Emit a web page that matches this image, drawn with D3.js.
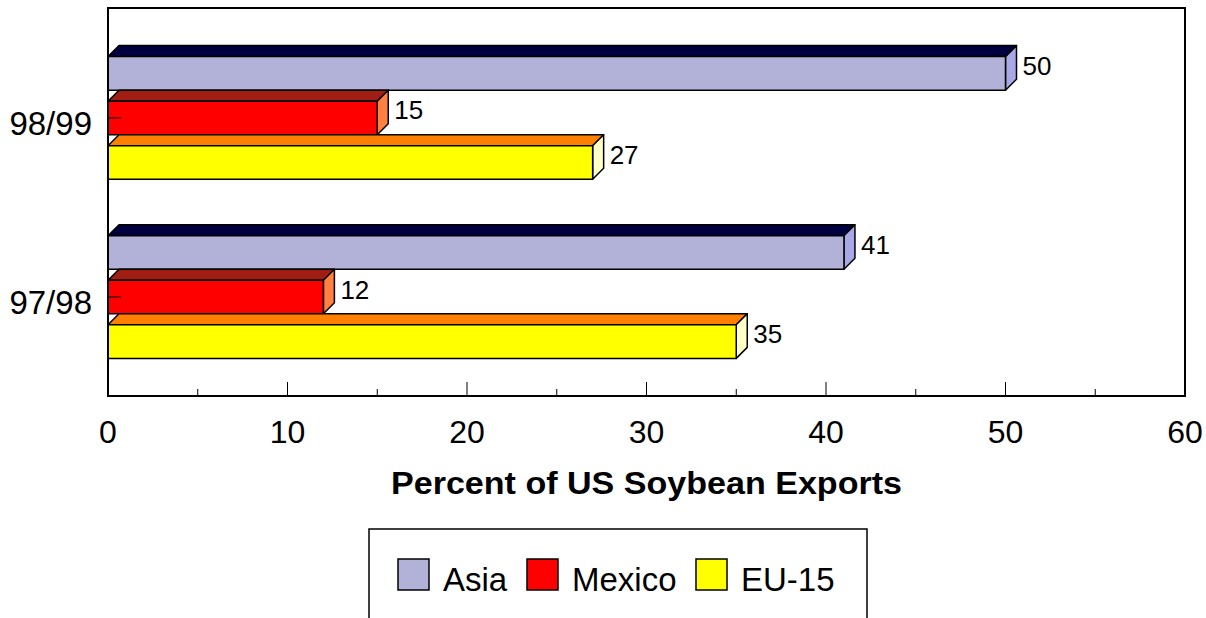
<!DOCTYPE html>
<html><head><meta charset="utf-8">
<script src="https://d3js.org/d3.v7.min.js"></script>
<style>body{margin:0;background:#fff}svg{display:block}</style>
</head><body><svg id="c" width="1206" height="618"></svg>
<script>
const categories = ["98/99", "97/98"];
const seriesNames = ["Asia", "Mexico", "EU-15"];
const asia = [50, 41];
const mexico = [15, 12];
const eu15 = [27, 35];
const xTicks = [0, 10, 20, 30, 40, 50, 60];
const frontColors = ["#b2b2d9", "#ff0000", "#ffff00"];
const topColors = ["#000040", "#a01e14", "#ff8000"];
const sideColors = ["#a8a8e6", "#ff8040", "#ffffc8"];
const seriesValues = [asia, mexico, eu15];

(function () {
const svg = d3.select("#c");
const pL = 108, pR = 1185, pT = 8, pB = 396;
const depth = 11;
const font = "Arial, 'Liberation Sans', sans-serif";

const x = d3.scaleLinear().domain([0, 60]).range([pL, pR]);
const y = d3.scaleBand().domain(categories).range([pT, pB]).paddingInner(0.254).paddingOuter(0.21);
const ys = d3.scaleBand().domain(seriesNames).range([0, y.bandwidth()]);

svg.append("rect").attr("x", pL).attr("y", pT).attr("width", pR - pL).attr("height", pB - pT)
  .attr("fill", "none").attr("stroke", "#000").attr("stroke-width", 2);

const minor = d3.range(5, 60, 10);
svg.selectAll(".mt").data(minor).enter().append("line")
  .attr("x1", d => x(d)).attr("x2", d => x(d)).attr("y1", pB).attr("y2", pB - 7)
  .attr("stroke", "#000").attr("stroke-width", 1);
svg.selectAll(".Mt").data(xTicks.slice(1, -1)).enter().append("line")
  .attr("x1", d => x(d)).attr("x2", d => x(d)).attr("y1", pB).attr("y2", pB - 14)
  .attr("stroke", "#000").attr("stroke-width", 1);
svg.selectAll(".xl").data(xTicks).enter().append("text")
  .attr("x", d => x(d)).attr("y", 443).attr("text-anchor", "middle")
  .attr("font-family", font).attr("font-size", 32).text(d => d);

svg.append("text").attr("x", 391).attr("y", 494)
  .attr("font-family", font).attr("font-size", 31).attr("font-weight", "bold")
  .attr("textLength", 511).attr("lengthAdjust", "spacingAndGlyphs")
  .text("Percent of US Soybean Exports");

categories.forEach((cat, ci) => {
  const g0 = y(cat);
  seriesNames.forEach((s, si) => {
    const v = seriesValues[si][ci];
    const yt = g0 + ys(s);
    const yf = yt + depth;
    const h = ys.bandwidth() - depth;
    const x0 = x(0), x1 = x(v);
    const g = svg.append("g").attr("stroke", "#000").attr("stroke-width", 1.5).attr("stroke-linejoin", "round");
    g.append("path").attr("fill", topColors[si])
      .attr("d", `M${x0},${yf}L${x0 + depth},${yt}L${x1 + depth},${yt}L${x1},${yf}Z`);
    g.append("path").attr("fill", sideColors[si])
      .attr("d", `M${x1},${yf}L${x1 + depth},${yt}L${x1 + depth},${yt + h}L${x1},${yf + h}Z`);
    g.append("rect").attr("x", x0).attr("y", yf).attr("width", x1 - x0).attr("height", h)
      .attr("fill", frontColors[si]);
    svg.append("text").attr("x", x1 + depth + 6).attr("y", yt + (h + depth) / 2 + 7)
      .attr("font-family", font).attr("font-size", 26).text(v);
  });
  const cy = g0 + depth + (y.bandwidth() - depth) / 2;
  svg.append("line").attr("x1", pL).attr("x2", pL + 13).attr("y1", cy).attr("y2", cy)
    .attr("stroke", "#000").attr("stroke-width", 1);
  svg.append("text").attr("x", 92).attr("y", cy + 17).attr("text-anchor", "end")
    .attr("font-family", font).attr("font-size", 33).text(cat);
});

svg.append("line").attr("x1", pL).attr("x2", pL).attr("y1", pT).attr("y2", pB)
  .attr("stroke", "#000").attr("stroke-width", 2);

svg.append("rect").attr("x", 369).attr("y", 529).attr("width", 498).attr("height", 110)
  .attr("fill", "#fff").attr("stroke", "#000").attr("stroke-width", 1.5);
const legX = [398, 527, 696];
seriesNames.forEach((s, i) => {
  svg.append("rect").attr("x", legX[i]).attr("y", 559).attr("width", 31).attr("height", 31)
    .attr("fill", frontColors[i]).attr("stroke", "#000").attr("stroke-width", 1.5);
  svg.append("text").attr("x", legX[i] + 45).attr("y", 591)
    .attr("font-family", font).attr("font-size", 33).text(s);
});
})();
</script></body></html>
